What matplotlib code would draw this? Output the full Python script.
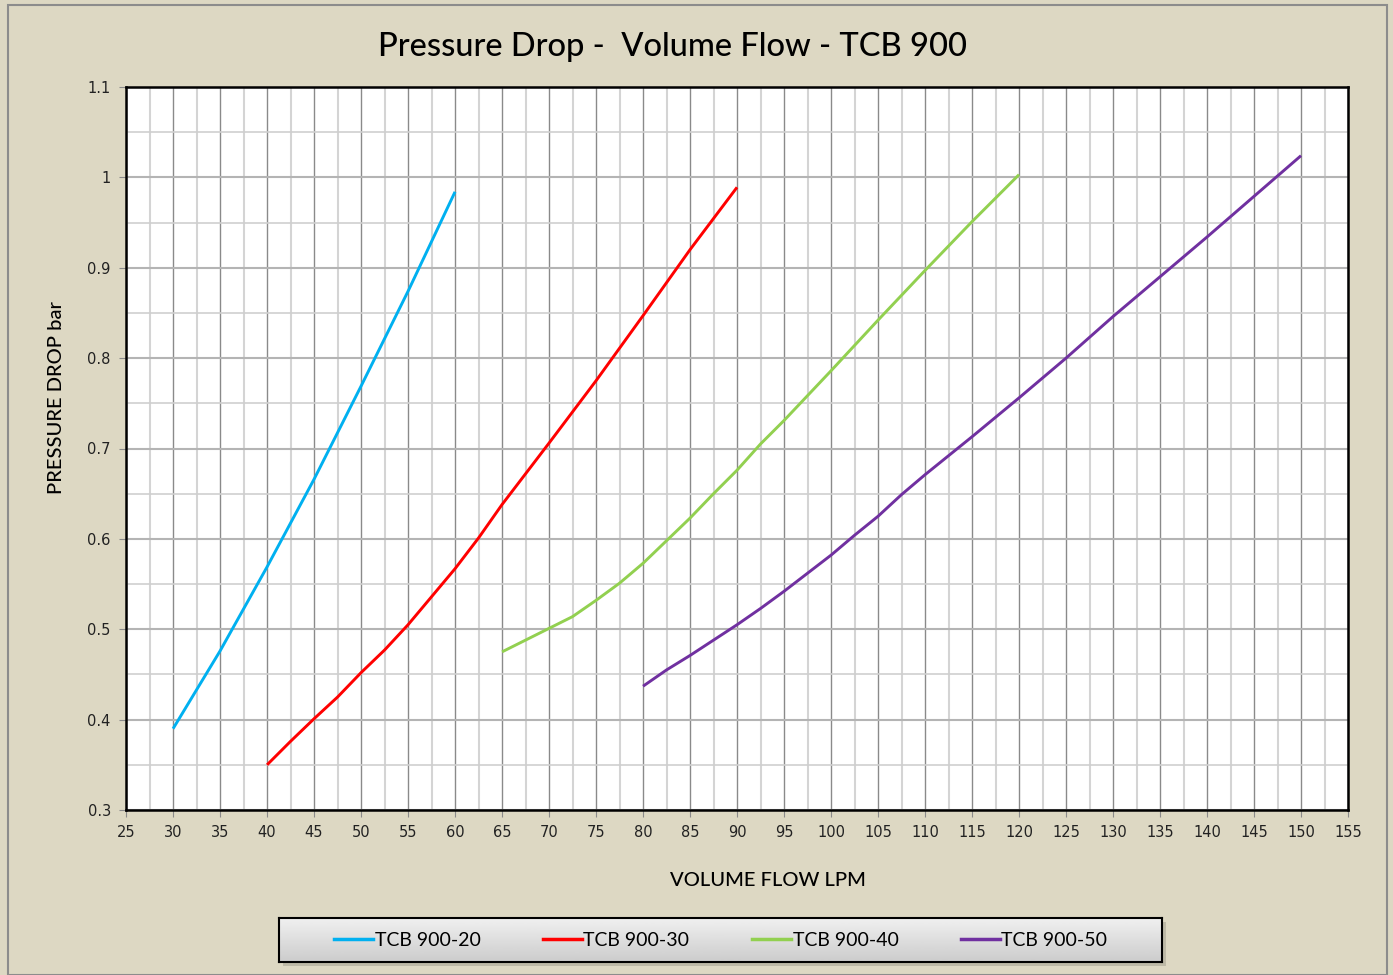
import numpy as np
import matplotlib
matplotlib.use("Agg")
import matplotlib.pyplot as plt
from matplotlib.ticker import MultipleLocator
from matplotlib.lines import Line2D
from matplotlib.patches import Rectangle

# data (flow in LPM, pressure drop in bar)
flow_20 = [30, 35, 40, 45, 50, 55, 60]
dp_20 = [0.39, 0.476, 0.569, 0.666, 0.769, 0.874, 0.984]

flow_30 = [40, 42.5, 45, 47.5, 50, 52.5, 55, 57.5, 60, 62.5, 65, 70, 75, 80, 85, 90]
dp_30 = [0.35, 0.376, 0.401, 0.425, 0.452, 0.477, 0.505, 0.536, 0.567, 0.601, 0.638,
         0.706, 0.775, 0.847, 0.92, 0.989]

flow_40 = [65, 67.5, 70, 72.5, 75, 77.5, 80, 82.5, 85, 87.5, 90, 92.5, 95, 100, 105, 110, 115, 120]
dp_40 = [0.475, 0.488, 0.501, 0.514, 0.532, 0.551, 0.573, 0.598, 0.623, 0.65, 0.676, 0.705,
         0.731, 0.786, 0.842, 0.897, 0.951, 1.003]

flow_50 = [80, 82.5, 85, 87.5, 90, 92.5, 95, 97.5, 100, 102.5, 105, 107.5, 110,
           115, 120, 125, 130, 135, 140, 145, 150]
dp_50 = [0.437, 0.455, 0.471, 0.488, 0.505, 0.523, 0.542, 0.562, 0.582, 0.604, 0.625, 0.649, 0.671,
         0.713, 0.756, 0.8, 0.846, 0.89, 0.934, 0.979, 1.024]

series = [
    ("TCB 900-20", flow_20, dp_20, "#00b0f0"),
    ("TCB 900-30", flow_30, dp_30, "#ff0000"),
    ("TCB 900-40", flow_40, dp_40, "#92d050"),
    ("TCB 900-50", flow_50, dp_50, "#7030a0"),
]

bg = "#ddd8c3"
txt = ["Lato", "DejaVu Sans"]

fig = plt.figure(figsize=(13.93, 9.75), dpi=100, facecolor=bg)
# thin grey frame round the whole chart
fig.patches.append(Rectangle((0.006, 0.0), 0.99, 0.995, transform=fig.transFigure,
                             fill=False, edgecolor="#8c8c8c", lw=1.5))

ax = fig.add_axes([0.0905, 0.1692, 0.8772, 0.7416])
ax.set_facecolor("white")
for name, x, y, c in series:
    ax.plot(x, y, color=c, lw=2.1, solid_capstyle="butt", solid_joinstyle="round", zorder=3)

ax.set_xlim(25, 155)
ax.set_ylim(0.3, 1.1)
ax.xaxis.set_major_locator(MultipleLocator(5))
ax.xaxis.set_minor_locator(MultipleLocator(2.5))
ax.yaxis.set_minor_locator(MultipleLocator(0.05))
ax.set_yticks(np.arange(0.3, 1.11, 0.1))
ax.set_yticklabels(["0.3", "0.4", "0.5", "0.6", "0.7", "0.8", "0.9", "1", "1.1"])

ax.grid(which="major", axis="x", color="#8a8a8a", lw=1.0, zorder=1)
ax.grid(which="minor", axis="x", color="#d4d4d4", lw=1.5, zorder=0)
ax.grid(which="major", axis="y", color="#b4b4b4", lw=1.5, zorder=1)
ax.grid(which="minor", axis="y", color="#cfcfcf", lw=1.2, zorder=0)
ax.set_axisbelow(True)

ax.tick_params(which="major", direction="out", length=5, color="#8a8a8a",
               labelsize=10.5, labelcolor="#222222", pad=6)
ax.tick_params(which="minor", length=0)
for s in ax.spines.values():
    s.set_color("black")
    s.set_linewidth(1.8)

fig.text(768 / 1393, 1 - 881 / 975, "VOLUME FLOW LPM", ha="center", va="center",
         fontsize=14.5, family=txt, fontweight="medium")
fig.text(57 / 1393, 1 - 397 / 975, "PRESSURE DROP bar", ha="center", va="center",
         rotation=90, fontsize=14.5, family=txt, fontweight="medium")
fig.text(0.483, 0.952, "Pressure Drop -  Volume Flow - TCB 900", ha="center", va="center",
         fontsize=23.5, family=txt, fontweight="medium")

# legend box: shadow, gradient panel, frameless legend on top
shadow = fig.add_axes([0.2033, 0.0093, 0.634, 0.0451])
shadow.set_facecolor("#bdb9a7")
shadow.set_xticks([]); shadow.set_yticks([])
for s in shadow.spines.values():
    s.set_visible(False)

lax = fig.add_axes([0.2003, 0.0133, 0.634, 0.0451])
grad = np.linspace(0.94, 0.8, 50).reshape(-1, 1)
lax.imshow(grad, aspect="auto", cmap="gray", vmin=0, vmax=1, extent=[0, 1, 0, 1])
lax.set_xticks([]); lax.set_yticks([])
for s in lax.spines.values():
    s.set_color("black")
    s.set_linewidth(1.5)

handles = [Line2D([], [], color=c, lw=2.5) for _, _, _, c in series]
labels = [n for n, _, _, _ in series]
lax.legend(handles, labels, loc="center", ncol=4, frameon=False,
           handlelength=2.0, handletextpad=0.1, columnspacing=3.2,
           prop={"family": txt, "size": 14})

fig.savefig("out.png", dpi=100, facecolor=bg)
